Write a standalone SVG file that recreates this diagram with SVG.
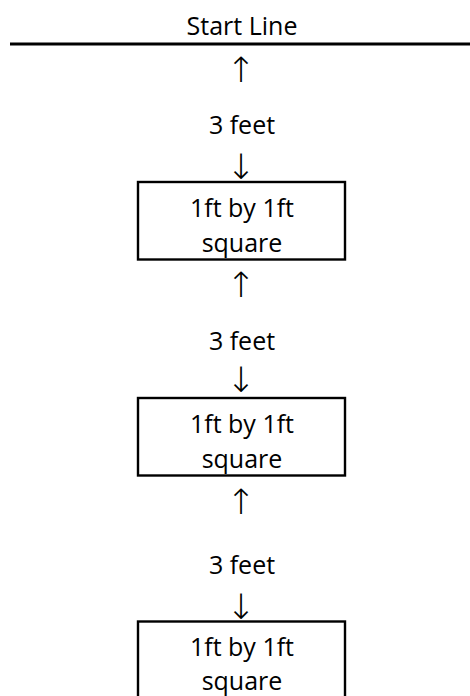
<svg xmlns="http://www.w3.org/2000/svg" width="470" height="696" viewBox="0 0 470 696">
<style>
.t{font-family:"Open Sans","Liberation Sans",sans-serif;font-size:25px;fill:#000;text-anchor:middle}
.a{font-family:"DejaVu Sans",sans-serif;font-size:35px;font-weight:200;fill:#000;text-anchor:middle}
.box{fill:#fff;stroke:#000;stroke-width:2.4}
</style>
<rect width="470" height="696" fill="#fff"/>
<g id="start-line">
<text class="t" x="242" y="35">Start Line</text>
<line x1="10" y1="44" x2="470" y2="44" stroke="#000" stroke-width="3"/>
</g>
<g id="connectors">
<text class="a" x="241" y="82">↑</text>
<text class="t" x="242" y="134">3 feet</text>
<text class="a" x="241" y="179">↓</text>
<text class="a" x="241" y="297">↑</text>
<text class="t" x="242" y="350">3 feet</text>
<text class="a" x="241" y="392">↓</text>
<text class="a" x="241" y="514">↑</text>
<text class="t" x="242" y="574">3 feet</text>
<text class="a" x="241" y="619">↓</text>
</g>
<g id="square-1">
<rect class="box" x="138" y="182" width="207" height="77.5"/>
<text class="t" x="242" y="217">1ft by 1ft</text>
<text class="t" x="242" y="252">square</text>
</g>
<g id="square-2">
<rect class="box" x="138" y="398" width="207" height="77.5"/>
<text class="t" x="242" y="433">1ft by 1ft</text>
<text class="t" x="242" y="468">square</text>
</g>
<g id="square-3">
<rect class="box" x="138" y="621.5" width="207" height="77.5"/>
<text class="t" x="242" y="656">1ft by 1ft</text>
<text class="t" x="242" y="690">square</text>
</g>
</svg>
